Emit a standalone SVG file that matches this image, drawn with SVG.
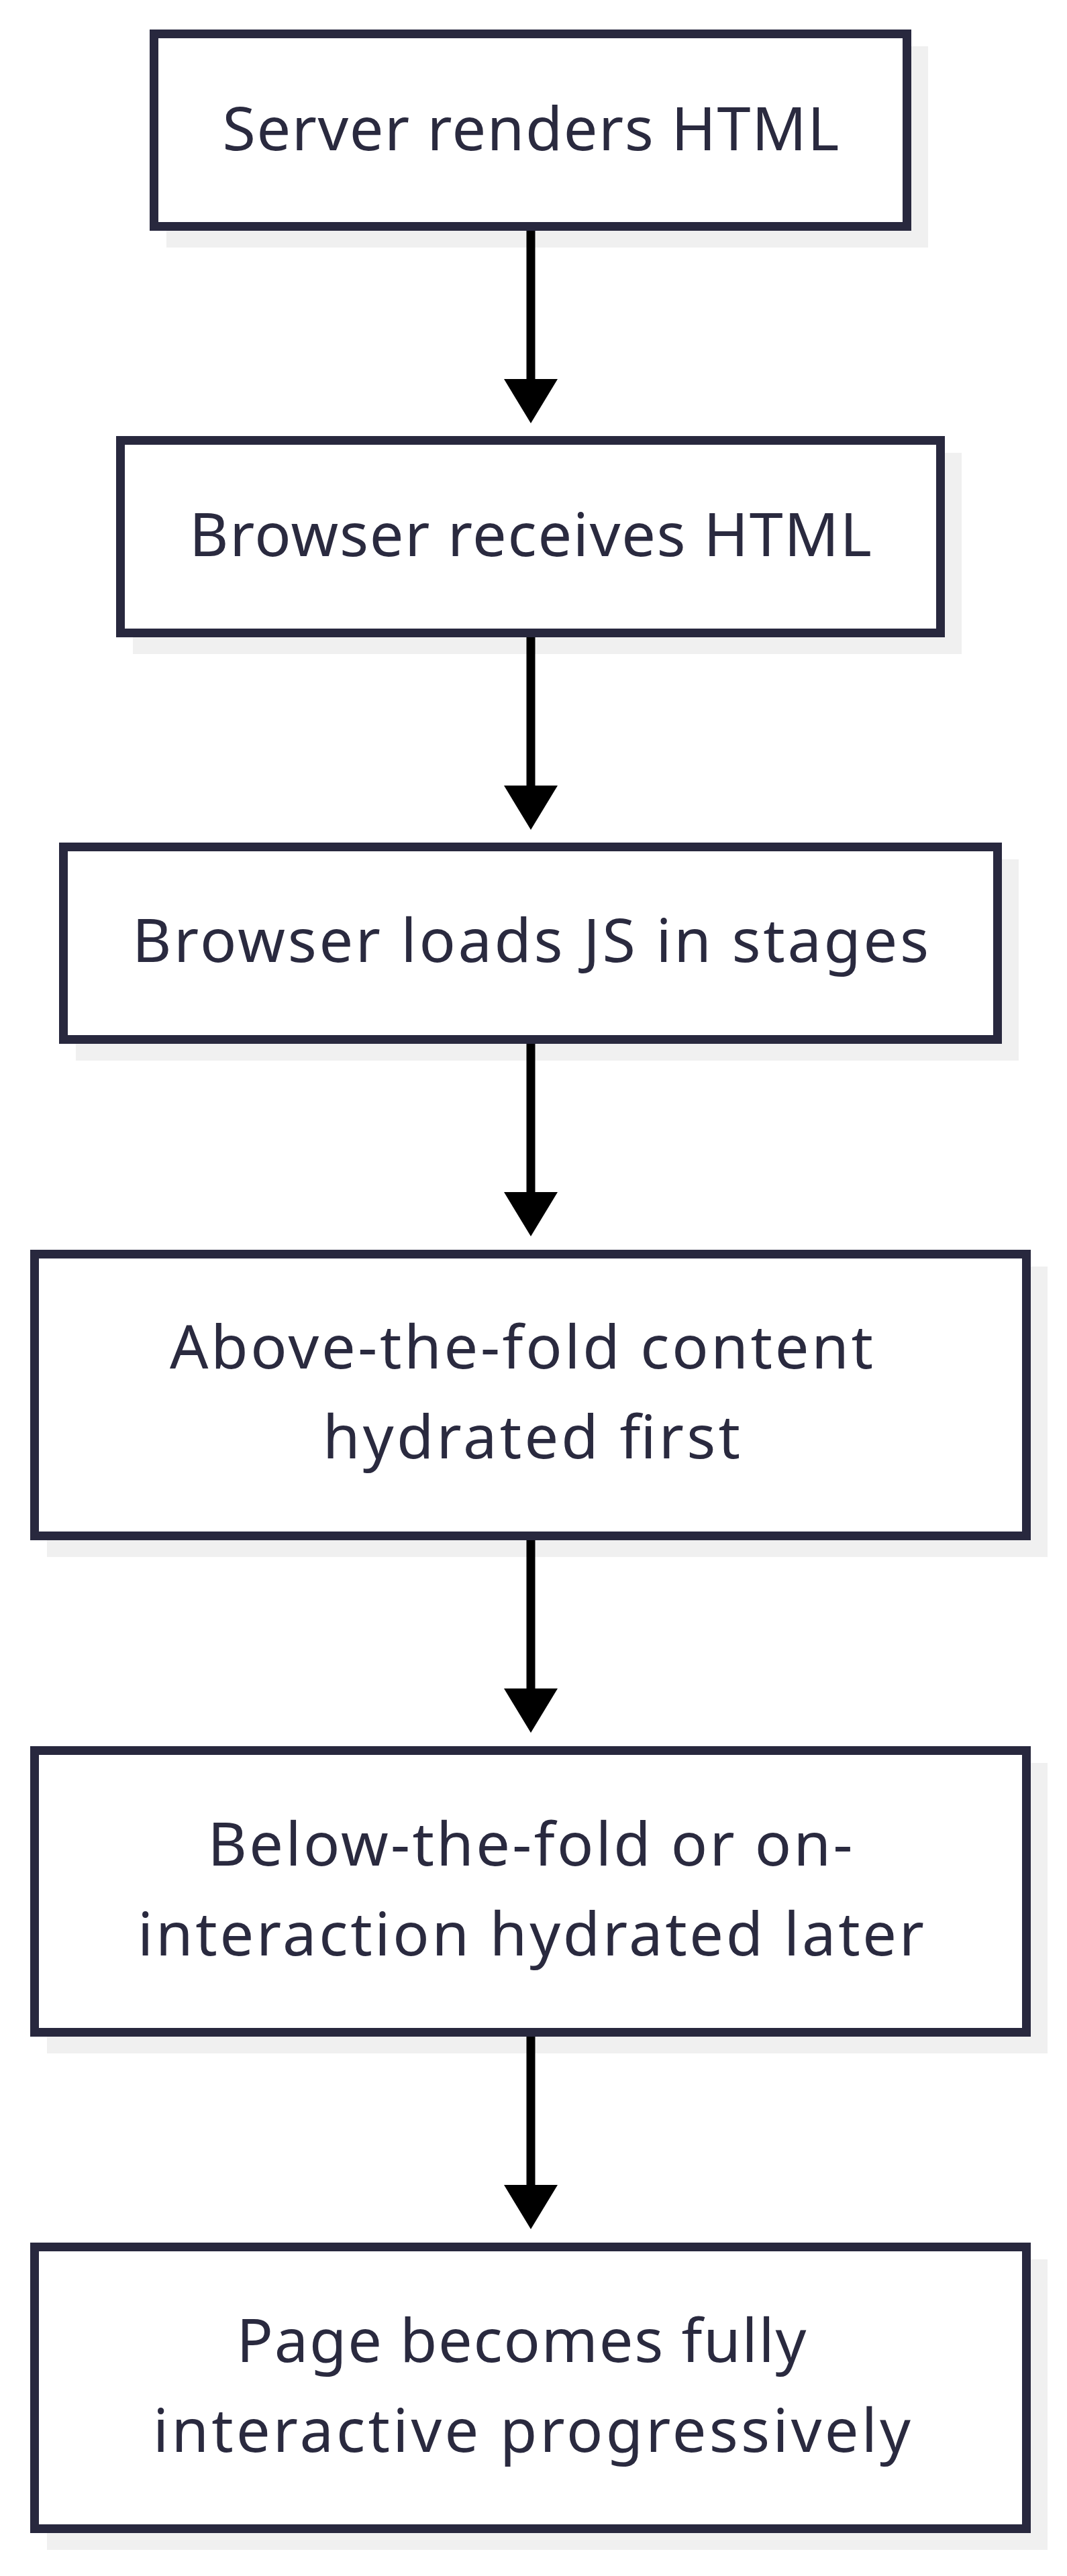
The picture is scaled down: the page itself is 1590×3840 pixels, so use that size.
<svg xmlns="http://www.w3.org/2000/svg" width="1590" height="3840" viewBox="0 0 1590 3840">
<style>
.shadow{fill:#f0f0f0;stroke:none}
.box{fill:#ffffff;stroke:#28283e;stroke-width:13}
.label{font-family:"Noto Sans","Open Sans","DejaVu Sans",sans-serif;font-size:90px;fill:#2a2a3f;text-anchor:middle}
.edge{stroke:#000000;stroke-width:13;fill:none}
.head{fill:#000000}
</style>
<rect width="1590" height="3840" fill="#ffffff"/>
<g id="node1">
<rect class="shadow" x="248" y="69" width="1135" height="300"/>
<rect class="box" x="229.5" y="50.5" width="1122" height="287"/>
<text class="label" x="791" y="224" textLength="919" lengthAdjust="spacing">Server renders HTML</text>
</g>
<g id="node2">
<rect class="shadow" x="198" y="675" width="1235" height="300"/>
<rect class="box" x="179.5" y="656.5" width="1222" height="287"/>
<text class="label" x="790.5" y="829" textLength="1017" lengthAdjust="spacing">Browser receives HTML</text>
</g>
<g id="node3">
<rect class="shadow" x="113" y="1281" width="1405" height="300"/>
<rect class="box" x="94.5" y="1262.5" width="1392" height="287"/>
<text class="label" x="790.5" y="1434" textLength="1187" lengthAdjust="spacing">Browser loads JS in stages</text>
</g>
<g id="node4">
<rect class="shadow" x="70" y="1888" width="1491" height="433"/>
<rect class="box" x="51.5" y="1869.5" width="1478" height="420"/>
<text class="label" x="777" y="2040" textLength="1048" lengthAdjust="spacing">Above-the-fold content</text>
<text class="label" x="792" y="2174" textLength="622" lengthAdjust="spacing">hydrated first</text>
</g>
<g id="node5">
<rect class="shadow" x="70" y="2628" width="1491" height="433"/>
<rect class="box" x="51.5" y="2609.5" width="1478" height="420"/>
<text class="label" x="790" y="2781" textLength="961" lengthAdjust="spacing">Below-the-fold or on-</text>
<text class="label" x="791" y="2915" textLength="1172" lengthAdjust="spacing">interaction hydrated later</text>
</g>
<g id="node6">
<rect class="shadow" x="70" y="3368" width="1491" height="433"/>
<rect class="box" x="51.5" y="3349.5" width="1478" height="420"/>
<text class="label" x="777" y="3521" textLength="849" lengthAdjust="spacing">Page becomes fully</text>
<text class="label" x="792.5" y="3655" textLength="1129" lengthAdjust="spacing">interactive progressively</text>
</g>
<g id="connectors">
<line class="edge" x1="791" y1="344" x2="791" y2="566"/>
<polygon class="head" points="751,565 831,565 791,631"/>
<line class="edge" x1="791" y1="950" x2="791" y2="1172"/>
<polygon class="head" points="751,1171 831,1171 791,1237"/>
<line class="edge" x1="791" y1="1556" x2="791" y2="1778"/>
<polygon class="head" points="751,1777 831,1777 791,1843"/>
<line class="edge" x1="791" y1="2296" x2="791" y2="2518"/>
<polygon class="head" points="751,2517 831,2517 791,2583"/>
<line class="edge" x1="791" y1="3036" x2="791" y2="3258"/>
<polygon class="head" points="751,3257 831,3257 791,3323"/>
</g>
</svg>
